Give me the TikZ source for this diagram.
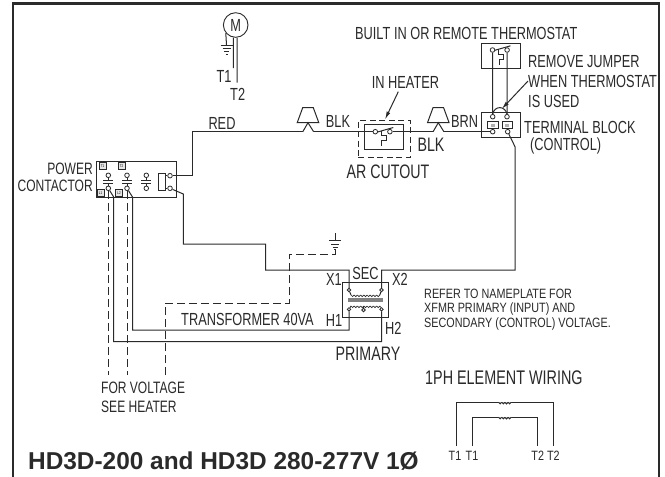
\documentclass[tikz,border=0pt]{standalone}
\usepackage{fontspec}
\setmainfont[FakeStretch=0.73]{Liberation Sans}
\newfontfamily\headfont{Liberation Sans}
\newfontfamily\notefont[FakeStretch=0.8]{Liberation Sans}
\usepackage{tikz}
\usetikzlibrary{arrows.meta, positioning}

\definecolor{ink}{HTML}{2A2A2A}

\tikzset{
	lab/.style={inner sep=0, text=ink, font=\fontsize{17.5}{17.5}\selectfont},
	big/.style={lab, font=\fontsize{19.5}{19.5}\selectfont},
	tight/.style={lab, font=\fontsize{16.5}{16.5}\selectfont},
	small/.style={inner sep=0, text=ink, font=\notefont\fontsize{13.5}{13.5}\selectfont},
	wire/.style={draw=ink, line width=1pt},
	dashwire/.style={wire, dash pattern=on 8pt off 4pt},
	term/.style={circle, draw=ink, line width=0.8pt, inner sep=0, minimum size=4.6pt, fill=white},
	tag/.style={draw=ink, fill=black!10, line width=0.5pt, inner sep=0, minimum size=7pt, font=\fontsize{4}{4}\selectfont},
	lead/.style={wire, -{Latex[length=8pt,width=4pt]}},
	contact/.pic={
		\node[term] (T) at (0,0) {};
		\node[term] (B) at (0,13) {};
		\draw[wire] (T) -- (0,5.4) (B) -- (0,8);
		\draw[wire] (-5,5.4) -- (5,5.4) (-5,8) -- (5,8);
	},
	thermal/.pic={
		\node[term] (L) at (0,0) {};
		\node[term] (R) at (14.6,0) {};
		\draw[wire] (2,0.4) -- (18,-4.2);
		\draw[wire] (6.4,-0.8) -- (6.4,4) -- (11,4) -- (11,9) -- (6.6,9) -- (6.6,14.6);
	},
	wedge/.pic={
		\draw[wire] (-5.3,-24) -- (5.3,-24) -- (10.8,-9) -- (-10.8,-9) -- cycle;
		\coordinate (L) at (-5.2,0);
		\coordinate (R) at (5.6,0);
		\draw[wire] (L) -- (0,-9) -- (R);
	},
	gnd/.pic={
		\draw[wire] (-6,0) -- (6,0);
		\draw[wire] (-4,3.4) -- (4,3.4);
		\draw[wire] (-2.5,6.6) -- (2.5,6.6);
		\draw[wire] (-1,9) -- (1,9);
	},
	coil/.pic={
		\foreach \i in {0,...,8} \draw[draw=ink, line width=0.7pt] (\i*3.2,0) arc (180:0:1.6);
	},
	element/.pic={
		\foreach \i in {0,...,3} \draw[draw=ink, line width=0.9pt, fill=white] (\i*3.2,0) arc (180:0:1.6);
	}
}

\begin{document}
\begin{tikzpicture}[x=1pt, y=-1pt]
	\useasboundingbox (0,0) rectangle (665,477);
	\fill[white] (0,0) rectangle (665,477);

	% frame
	\coordinate (FA) at (13,476.5);
	\coordinate (FB) at (13,3.5);
	\coordinate (FC) at (658.7,3.5);
	\coordinate (FD) at (658.7,476.5);
	\draw[draw=ink, line width=2.4pt] (FA) -- (FB) -- (FC) -- (FD);

	% motor
	\node[circle, draw=ink, line width=0.9pt, inner sep=0, minimum size=24.6pt, lab] (M) at (235.7,25) {M};
	\coordinate (MG) at (226.5,45);
	\coordinate (MA) at (233.3,68);
	\coordinate (MB) at (237,82.7);
	\draw[wire] (M.-141) -- (MG);
	\draw[wire] (M.-101) -- (MA);
	\draw[wire] (M.-84) -- (MB);
	\pic at (MG) {gnd};
	\node[lab] (T1) at (224,76) {T1};
	\node[lab] (T2) at (237.7,94) {T2};

	% power contactor
	\node[draw=ink, line width=0.9pt, inner sep=0, minimum width=80pt, minimum height=36pt] (PC) at (136.7,179) {};
	\node[tag] (PT1) at (102.5,166) {T1};
	\node[tag] (PT2) at (121.5,166) {T2};
	\node[tag] (PL1) at (100.5,193) {L1};
	\node[tag] (PL2) at (119,193) {L2};
	\pic (ca) at (108.3,175.3) {contact};
	\pic (cb) at (127,175.3) {contact};
	\pic (cc) at (146.3,175.3) {contact};
	\node[draw=ink, line width=0.9pt, inner sep=0, minimum width=7pt, minimum height=17.4pt] (CO) at (162.2,182) {};
	\node[term] (CT) at (170,175.7) {};
	\node[term] (CB) at (170,188.3) {};
	\draw[wire] (CO.east |- CT) -- (CT);
	\draw[wire] (CO.east |- CB) -- (CB);
	\node[tight, align=right, anchor=east] (PCL) at (93,177.5) {POWER\\[0.5pt]CONTACTOR};

	% cutout
	\node[wire, dash pattern=on 6pt off 3.5pt, inner sep=0, minimum width=51.7pt, minimum height=37.3pt] (AR) at (384.2,138.7) {};
	\node[wire, inner sep=0, minimum width=39.3pt, minimum height=24.6pt] (ARI) at (383.7,137) {};
	\pic (cut) at (375.3,131.7) {thermal};
	\node[lab] (AH) at (405.5,82.7) {IN HEATER};
	\node[big] (AL) at (388,171.7) {AR CUTOUT};
	\coordinate (AHA) at (398.3,91.7);
	\coordinate (AHB) at (385,119.5);
	\draw[lead] (AHA) -- (AHB);

	% wedges
	\pic (wa) at (308,131.7) {wedge};
	\pic (wb) at (438.3,131.7) {wedge};
	\node[lab] (RED) at (222,123) {RED};
	\node[lab] (BLKA) at (338,121) {BLK};
	\node[big] (BLKB) at (431,144.3) {BLK};
	\node[lab] (BRN) at (464.5,121.7) {BRN};

	% terminal block
	\node[wire, inner sep=0, minimum width=39pt, minimum height=24.6pt] (TB) at (500.8,125) {};
	\node[term] (TA) at (492.7,116.7) {};
	\node[term] (TC) at (507,116.7) {};
	\node[term] (TD) at (492.7,131.7) {};
	\node[term] (TE) at (507.7,131.7) {};
	\node[wire, inner sep=0, minimum width=10.6pt, minimum height=6.6pt] (TF) at (493,125) {};
	\node[wire, inner sep=0, minimum width=10.6pt, minimum height=6.6pt] (TG) at (507.4,125) {};
	\node[fill=black!30, inner sep=0, minimum width=4pt, minimum height=3pt] (TH) at (493,125) {};
	\node[fill=black!30, inner sep=0, minimum width=4pt, minimum height=3pt] (TI) at (507.4,125) {};
	\draw[wire] (TA.north) .. controls (494.5,105.5) and (505,105.5) .. (TC.north);
	\node[lab, anchor=west] (TBL) at (524,127.3) {TERMINAL BLOCK};
	\node[lab, anchor=west] (TBC) at (530,146.3) {(CONTROL)};

	% thermostat
	\node[wire, inner sep=0, minimum width=39.3pt, minimum height=25.4pt] (TS) at (500.7,56) {};
	\pic (st) at (492.5,50) {thermal};
	\draw[wire] (stL) -- (TA);
	\draw[wire] (stR) -- (TC);
	\node[lab, anchor=west] (TSL) at (355,33) {BUILT IN OR REMOTE THERMOSTAT};
	\node[lab, anchor=west] (JA) at (528,61.7) {REMOVE JUMPER};
	\node[lab, anchor=west] (JB) at (528,81.3) {WHEN THERMOSTAT};
	\node[lab, anchor=west] (JC) at (528,101.7) {IS USED};
	\coordinate (JL) at (528,81);
	\coordinate (JE) at (501.7,109);
	\draw[lead] (JL) -- (JE);

	% transformer
	\node[wire, inner sep=0, minimum width=46.4pt, minimum height=35pt] (XF) at (365.5,299.8) {};
	\node[term, minimum size=3.4pt] (XA) at (349,290) {};
	\node[term, minimum size=3.4pt] (XB) at (381.5,290) {};
	\node[term, minimum size=3.4pt] (XC) at (349,309.3) {};
	\node[term, minimum size=3.4pt] (XD) at (381.5,309.3) {};
	\node[term, minimum size=3.4pt] (XE) at (363.5,310) {};
	\node[fill=black!50, inner sep=0, minimum width=34.6pt, minimum height=3.4pt] (XG) at (365.3,300) {};
	\coordinate (CA) at (351,295);
	\coordinate (CB2) at (379.8,295);
	\coordinate (CC) at (351,306);
	\coordinate (CD) at (379.8,306);
	\pic at (CA) {coil};
	\pic at (CC) {coil};
	\draw[wire] (XA) -- (CA);
	\draw[wire] (XB) -- (CB2);
	\draw[wire] (XC) -- (CC);
	\draw[wire] (XD) -- (CD);
	\draw[wire] (XE) -- (363.5,306);
	\node[lab] (X1) at (334,279.3) {X1};
	\node[lab] (SEC) at (365.5,273.3) {SEC};
	\node[lab] (X2) at (400,279.3) {X2};
	\node[lab] (H1) at (334,320.7) {H1};
	\node[lab] (H2) at (393.2,328.3) {H2};
	\node[lab] (TR) at (247.5,319) {TRANSFORMER 40VA};
	\node[big] (PR) at (368,354) {PRIMARY};

	% wires
	\coordinate (WA) at (192.7,131.7);
	\draw[wire] (CT) -| (WA) -- (waL);
	\draw[wire] (waR) -- (cutL);
	\draw[wire] (cutR) -- (wbL);
	\draw[wire] (wbR) -- (TD);
	\coordinate (WB) at (183.3,194);
	\coordinate (WC) at (265.7,244);
	\coordinate (WD) at (349,270);
	\draw[wire] (CB) -- (WB) |- (WC) |- (WD) -- (XA);
	\coordinate (WE) at (381.5,270);
	\coordinate (WF) at (515,146.7);
	\draw[wire] (XB) -- (WE) -| (WF) -- (TE);
	\coordinate (WG) at (349,330);
	\coordinate (WH) at (132.5,197);
	\draw[wire] (XC) -- (WG) -| (WH) -- (cbB);
	\coordinate (WI) at (381.5,341.7);
	\coordinate (WJ) at (113.7,197);
	\draw[wire] (XD) -- (WI) -| (WJ) -- (caB);

	% dashed wires
	\coordinate (DA) at (108.3,375);
	\coordinate (DB) at (127,375);
	\coordinate (DC) at (165,375);
	\coordinate (DD) at (165,303.3);
	\coordinate (DE) at (289,303.3);
	\coordinate (DF) at (289,254.3);
	\coordinate (DG) at (335,254.3);
	\coordinate (DH) at (335,250);
	\coordinate (DI) at (335,240.7);
	\coordinate (DJ) at (335,233);
	\draw[dashwire, line width=0.7pt] (caB) -- (DA);
	\draw[dashwire, line width=0.7pt] (cbB) -- (DB);
	\draw[dashwire] (DC) -- (DD) -- (DE) -- (DF) -- (DG) -- (DH);
	\draw[wire] (DJ) -- (DI);
	\pic at (DI) {gnd};
	\node[tight, anchor=west] (FV) at (101,388) {FOR VOLTAGE};
	\node[tight, anchor=west] (SH) at (101,407) {SEE HEATER};

	% note
	\node[small, anchor=west] (NA) at (424,294) {REFER TO NAMEPLATE FOR};
	\node[small, anchor=west] (NB) at (424,309) {XFMR PRIMARY (INPUT) AND};
	\node[small, anchor=west] (NC) at (424,324) {SECONDARY (CONTROL) VOLTAGE.};

	% element wiring
	\node[lab, anchor=west, font=\fontsize{19.7}{19.7}\selectfont] (EL) at (425,378) {1PH ELEMENT WIRING};
	\coordinate (EA) at (456.3,446);
	\coordinate (EB) at (456.3,402.3);
	\coordinate (EC) at (553.3,402.3);
	\coordinate (ED) at (553.3,446);
	\coordinate (EE) at (472,446);
	\coordinate (EF) at (472,417.3);
	\coordinate (EG) at (537.7,417.3);
	\coordinate (EH) at (537.7,446);
	\draw[wire] (EA) -- (EB) -- (EC) -- (ED);
	\draw[wire] (EE) -- (EF) -- (EG) -- (EH);
	\pic at (498.5,402.3) {element};
	\pic at (498.5,417.3) {element};
	\node[small] (EJ) at (455,455.5) {T1};
	\node[small] (EK) at (472,455.5) {T1};
	\node[small] (EM) at (537.7,455.5) {T2};
	\node[small] (EN) at (553.3,455.5) {T2};

	% title
	\node[inner sep=0, anchor=west, text=ink, font=\headfont\bfseries\fontsize{24.4}{24.4}\selectfont] (HD) at (28,460.7) {HD3D-200 and HD3D 280-277V 1Ø};
\end{tikzpicture}
\end{document}
